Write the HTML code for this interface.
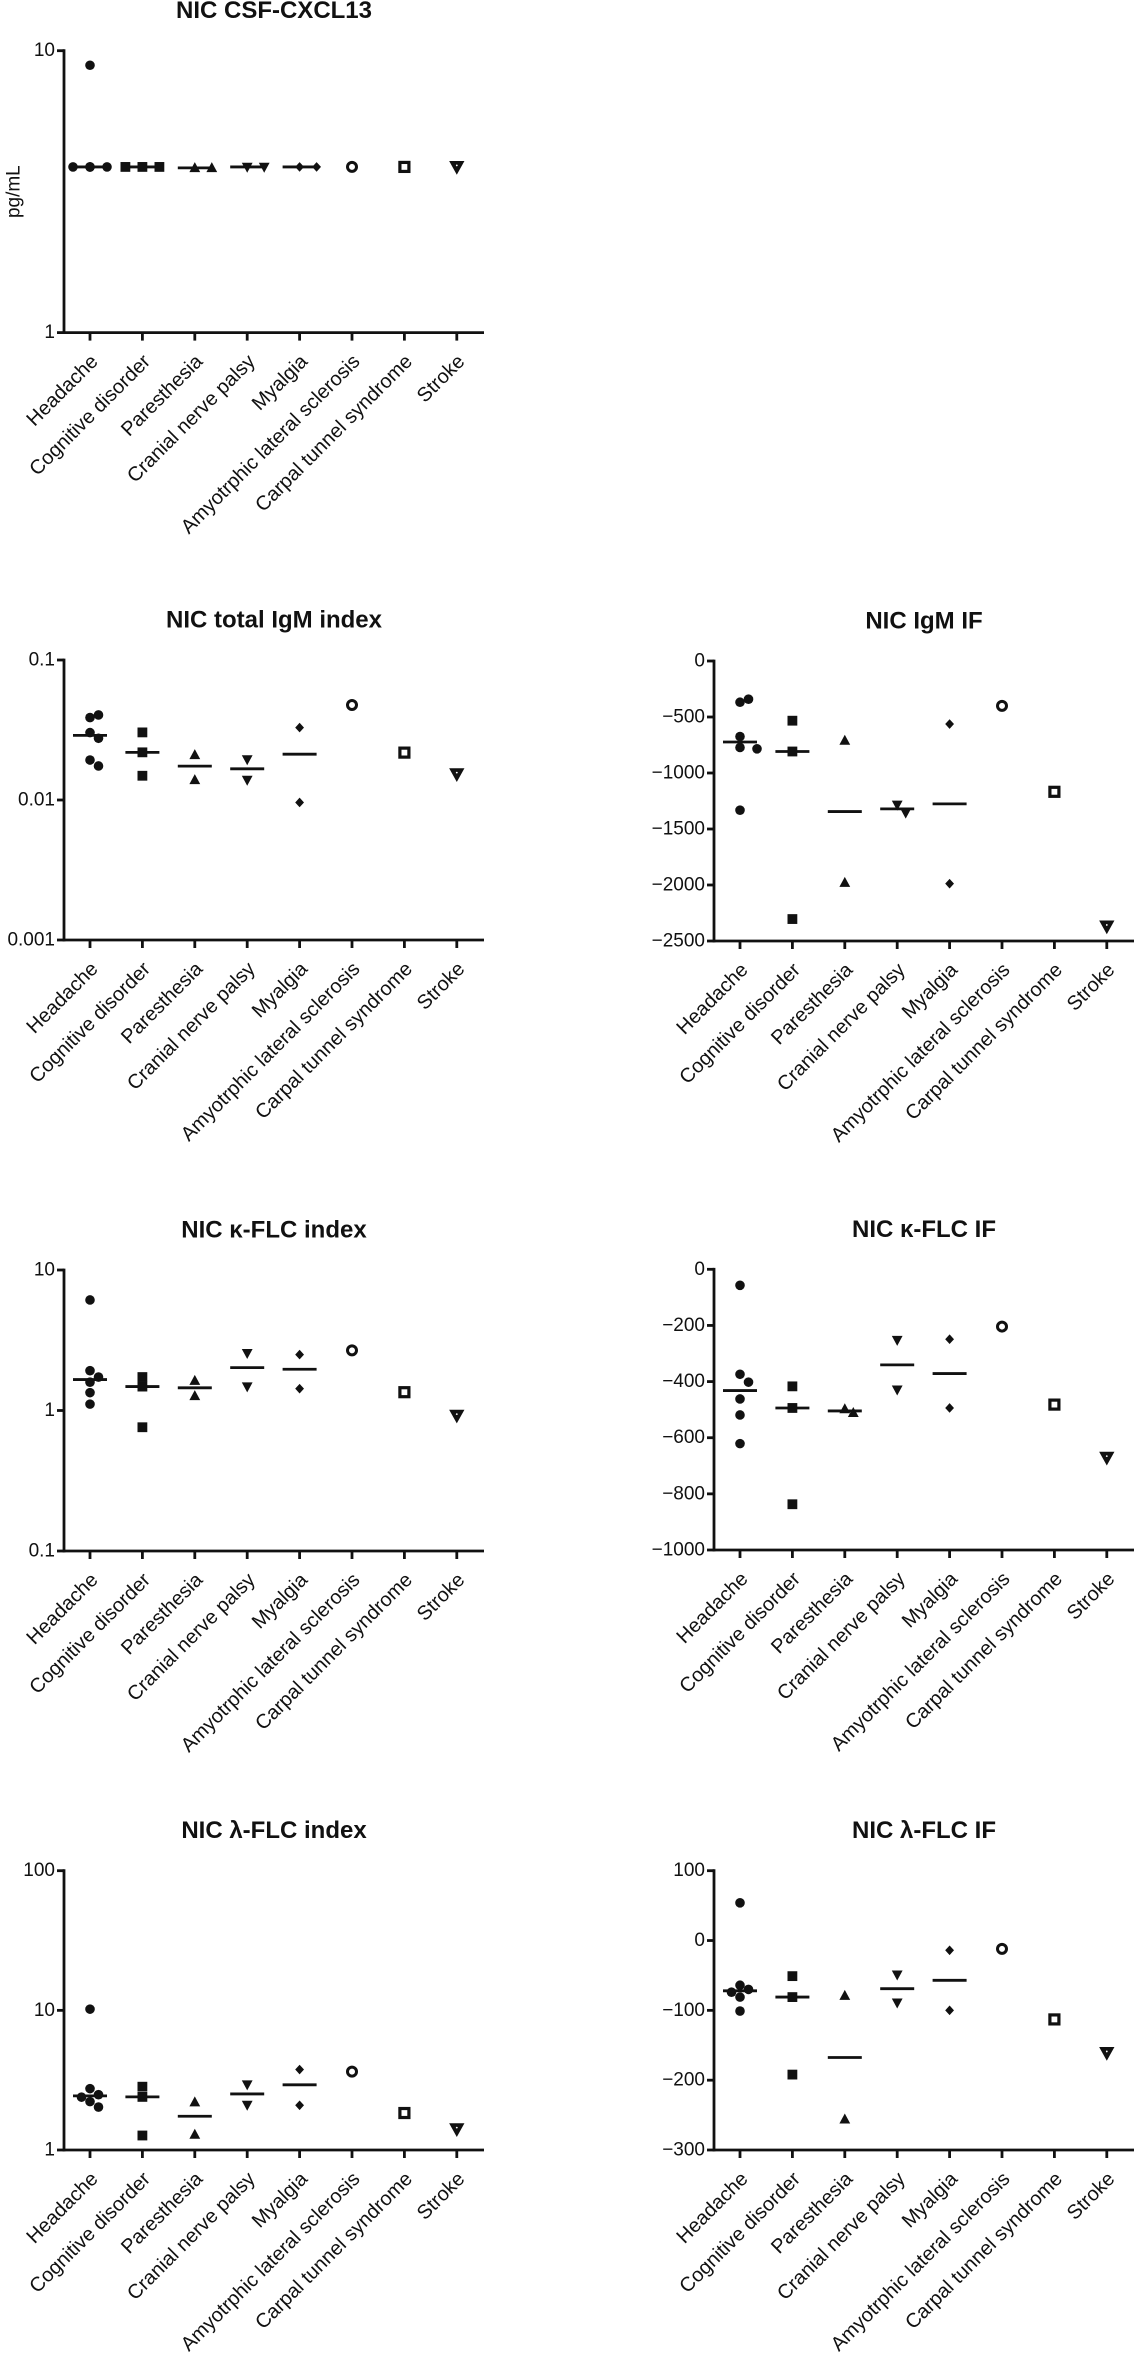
<!DOCTYPE html>
<html><head><meta charset="utf-8"><title>NIC panels</title>
<style>
html,body{margin:0;padding:0;background:#fff;}
svg{display:block;}
text{font-family:"Liberation Sans",Arial,sans-serif;fill:#111;}
</style></head>
<body>
<svg id="chart" width="1136" height="2378" viewBox="0 0 1136 2378" xmlns="http://www.w3.org/2000/svg"></svg>
<script>
const categories = ["Headache","Cognitive disorder","Paresthesia","Cranial nerve palsy","Myalgia","Amyotrphic lateral sclerosis","Carpal tunnel syndrome","Stroke"];

const cxcl13Values = [[8.88,3.87,3.87,3.87,3.87,3.87],[3.87,3.87,3.87],[3.84,3.84],[3.87,3.87],[3.87,3.87],[3.87],[3.87],[3.87]];
const cxcl13Ticks = [1,10];
const cxcl13TickLabels = ["1","10"];

const igmIndexValues = [[0.0388,0.0405,0.0303,0.0276,0.0193,0.0175],[0.0304,0.0219,0.0149],[0.0210,0.0139],[0.0195,0.0139],[0.0329,0.0096],[0.0477],[0.0218],[0.0153]];
const igmIndexTicks = [0.001,0.01,0.1];
const igmIndexTickLabels = ["0.001","0.01","0.1"];

const igmIfValues = [[-368,-341,-674,-772,-784,-1332],[-533,-808,-2304],[-710,-1979],[-1284,-1356],[-563,-1988],[-401],[-1168],[-2370]];
const igmIfTicks = [0,-500,-1000,-1500,-2000,-2500];
const igmIfTickLabels = ["0","−500","−1000","−1500","−2000","−2500"];

const kIndexValues = [[6.12,1.92,1.73,1.59,1.34,1.11],[1.73,1.48,0.76],[1.63,1.27],[2.56,1.48],[2.5,1.43],[2.68],[1.35],[0.92]];
const kIndexTicks = [0.1,1,10];
const kIndexTickLabels = ["0.1","1","10"];

const kIfValues = [[-57,-374,-402,-462,-519,-621],[-417,-494,-837],[-498,-511],[-252,-429],[-249,-494],[-204],[-482],[-671]];
const kIfTicks = [0,-200,-400,-600,-800,-1000];
const kIfTickLabels = ["0","−200","−400","−600","−800","−1000"];

const lIndexValues = [[10.2,2.75,2.49,2.39,2.22,2.03],[2.84,2.4,1.27],[2.2,1.29],[2.94,2.1],[3.77,2.09],[3.64],[1.84],[1.41]];
const lIndexTicks = [1,10,100];
const lIndexTickLabels = ["1","10","100"];

const lIfValues = [[54,-64,-70,-74,-81,-101],[-51,-81,-192],[-79,-256],[-49,-89],[-14,-100],[-12],[-113],[-161]];
const lIfTicks = [100,0,-100,-200,-300];
const lIfTickLabels = ["100","0","−100","−200","−300"];

const NS = "http://www.w3.org/2000/svg";
const svg = document.getElementById("chart");

const panels = [
  {name:"cxcl13", title:"NIC CSF-CXCL13", values:cxcl13Values, log:true, min:1, max:10, ticks:cxcl13Ticks, labels:cxcl13TickLabels, x0:64, top:50.7, bottom:332.6, ytitle:"pg/mL"},
  {name:"total-igm-index", title:"NIC total IgM index", values:igmIndexValues, log:true, min:0.001, max:0.1, ticks:igmIndexTicks, labels:igmIndexTickLabels, x0:64, top:660, bottom:940},
  {name:"igm-if", title:"NIC IgM IF", values:igmIfValues, log:false, min:-2500, max:0, ticks:igmIfTicks, labels:igmIfTickLabels, x0:714, top:661, bottom:941},
  {name:"kappa-flc-index", title:"NIC \u03BA-FLC index", values:kIndexValues, log:true, min:0.1, max:10, ticks:kIndexTicks, labels:kIndexTickLabels, x0:64, top:1270, bottom:1551},
  {name:"kappa-flc-if", title:"NIC \u03BA-FLC IF", values:kIfValues, log:false, min:-1000, max:0, ticks:kIfTicks, labels:kIfTickLabels, x0:714, top:1269.3, bottom:1550},
  {name:"lambda-flc-index", title:"NIC \u03BB-FLC index", values:lIndexValues, log:true, min:1, max:100, ticks:lIndexTicks, labels:lIndexTickLabels, x0:64, top:1870.7, bottom:2150},
  {name:"lambda-flc-if", title:"NIC \u03BB-FLC IF", values:lIfValues, log:false, min:-300, max:100, ticks:lIfTicks, labels:lIfTickLabels, x0:714, top:1870.7, bottom:2150}
];

function el(tag, attrs, parent){
  const e = document.createElementNS(NS, tag);
  for (const k in attrs) e.setAttribute(k, attrs[k]);
  (parent||svg).appendChild(e);
  return e;
}
function yScale(p, v){
  if (p.log){
    const a = Math.log10(p.min), b = Math.log10(p.max);
    return p.bottom - (Math.log10(v)-a)/(b-a)*(p.bottom-p.top);
  }
  return p.bottom - (v-p.min)/(p.max-p.min)*(p.bottom-p.top);
}
function xScale(p, i){ return p.x0 + 26 + i*52.4; }

function marker(g, type, x, y){
  let m;
  if (type===0){ m = el("circle",{cx:x,cy:y,r:4.8,fill:"#111"},g); }
  else if (type===1){ m = el("rect",{x:x-4.9,y:y-4.9,width:9.8,height:9.8,fill:"#111"},g); }
  else if (type===2){ m = el("polygon",{points:`${x},${y-5.8} ${x+5.4},${y+4.2} ${x-5.4},${y+4.2}`,fill:"#111"},g); }
  else if (type===3){ m = el("polygon",{points:`${x-5.4},${y-4.2} ${x+5.4},${y-4.2} ${x},${y+5.8}`,fill:"#111"},g); }
  else if (type===4){ m = el("polygon",{points:`${x},${y-4.8} ${x+4.4},${y} ${x},${y+4.8} ${x-4.4},${y}`,fill:"#111"},g); }
  else if (type===5){ m = el("circle",{cx:x,cy:y,r:4.5,fill:"#fff",stroke:"#111","stroke-width":3},g); }
  else if (type===6){ m = el("rect",{x:x-4.5,y:y-4.5,width:9,height:9,fill:"#fff",stroke:"#111","stroke-width":3.2},g); }
  else { m = el("polygon",{points:`${x-6.8},${y-5.4} ${x+6.8},${y-5.4} ${x},${y+6.8}`,fill:"#111",stroke:"#111","stroke-width":1},g);
         el("circle",{cx:x,cy:y-1.5,r:0.9,fill:"#fff"},g); }
  
  
}

panels.forEach(p => {
  const g = el("g",{});
  
  
  const xEnd = p.x0 + 420;
  const cx = p.x0 + 210;

  const t = el("text",{x:cx,y:p.top-40,"text-anchor":"middle","dominant-baseline":"central","font-size":24,"font-weight":"bold"},g);
  t.textContent = p.title;
  
  

  if (p.ytitle){
    const yt = el("text",{x:0,y:0,transform:`translate(14,${(p.top+p.bottom)/2}) rotate(-90)`,"text-anchor":"middle","dominant-baseline":"central","font-size":19},g);
    yt.textContent = p.ytitle;
    
    
  }

  const ya = el("line",{x1:p.x0,y1:p.top-1.4,x2:p.x0,y2:p.bottom+1.4,stroke:"#111","stroke-width":2.8},g);
  
  
  const xa = el("line",{x1:p.x0-1.4,y1:p.bottom,x2:xEnd,y2:p.bottom,stroke:"#111","stroke-width":2.8},g);
  
  

  p.ticks.forEach((tv, k) => {
    const y = yScale(p, tv);
    const tl = el("line",{x1:p.x0-7,y1:y,x2:p.x0,y2:y,stroke:"#111","stroke-width":2.8},g);
    
    
    const lb = el("text",{x:p.x0-9,y:y,"text-anchor":"end","dominant-baseline":"central","font-size":19},g);
    lb.textContent = p.labels[k];
    
    
  });

  categories.forEach((c, i) => {
    const x = xScale(p, i);
    const tk = el("line",{x1:x,y1:p.bottom,x2:x,y2:p.bottom+8,stroke:"#111","stroke-width":2.8},g);
    
    
    const lx = x + 9, ly = p.bottom + 30;
    const lb = el("text",{x:lx,y:ly,transform:`rotate(-45 ${lx} ${ly})`,"text-anchor":"end","font-size":20},g);
    lb.textContent = c;
    
    
  });

  p.values.forEach((vals, i) => {
    const x = xScale(p, i);
    if (vals.length >= 2){
      const s = vals.slice().sort((a,b)=>a-b);
      const n = s.length;
      const med = n%2 ? s[(n-1)/2] : (s[n/2-1]+s[n/2])/2;
      const my = yScale(p, med);
      const ml = el("line",{x1:x-17,y1:my,x2:x+17,y2:my,stroke:"#111","stroke-width":2.8},g);
      
      
    }
    const placed = [];
    vals.forEach(v => {
      const y = yScale(p, v);
      const offs = [0,8.5,-8.5,17,-17,25.5,-25.5];
      let px = x;
      for (const o of offs){
        const ok = placed.every(q => Math.hypot(q[0]-(x+o), q[1]-y) >= 8.8);
        if (ok){ px = x+o; break; }
      }
      placed.push([px,y]);
      marker(g, i, px, y);
    });
  });
});
</script>
</body></html>
